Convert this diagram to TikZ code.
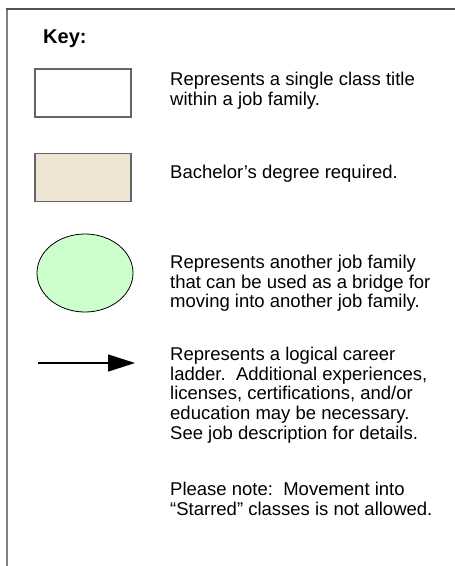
\documentclass[tikz,border=0pt]{standalone}
\usepackage{fontspec}
\setmainfont{Liberation Sans}
\usetikzlibrary{arrows.meta}
\definecolor{tan}{RGB}{237,228,211}
\definecolor{mint}{RGB}{204,255,204}
\definecolor{framedark}{RGB}{80,80,80}
\definecolor{framelight}{RGB}{128,128,128}
\definecolor{boxline}{RGB}{100,100,100}
\begin{document}
\begin{tikzpicture}[x=1pt,y=-1pt,
  keytext/.style={anchor=north west,inner sep=0pt,align=left,
    font=\fontsize{18.5}{19.8}\selectfont},
  keybox/.style={draw=boxline,line width=1.2pt,minimum width=96pt,minimum height=48pt,inner sep=0pt}]
\useasboundingbox (0,0) rectangle (455,566);
% frame
\draw[framelight,line width=2pt] (7,9) -- (7,566);
\draw[framedark,line width=2pt] (6,9) -- (455,9);
% title
\node[anchor=base west,inner sep=0pt,font=\fontsize{20}{22}\selectfont\bfseries] (key) at (43,43) {Key:};
% symbols
\node[keybox,fill=white] (box1) at (83,93) {};
\node[keybox,fill=tan] (box2) at (83,177.5) {};
\draw[black,line width=0.8pt,fill=mint] (85,273) ellipse [x radius=48, y radius=39];
\coordinate (oval) at (85,273);
\coordinate (arrA) at (38,363);
\coordinate (arrB) at (135,363);
\draw[line width=1.5pt,-{Triangle[length=27pt,width=17pt]}] (arrA) -- (arrB);
% texts
\node[keytext] (t1) at (170,85-13.8) {\strut Represents a single class title\\within a job family.};
\node[keytext] (t2) at (170,178-13.8) {\strut Bachelor’s degree required.};
\node[keytext] (t3) at (170,268-13.8) {\strut Represents another job family\\that can be used as a bridge for\\moving into another job family.};
\node[keytext] (t4) at (170,360-13.8) {\strut Represents a logical career\\ladder.\ \ Additional experiences,\\licenses, certifications, and/or\\education may be necessary.\\See job description for details.};
\node[keytext] (t5) at (170,495-13.8) {\strut Please note:\ \ Movement into\\“Starred” classes is not allowed.};
\end{tikzpicture}
\end{document}
